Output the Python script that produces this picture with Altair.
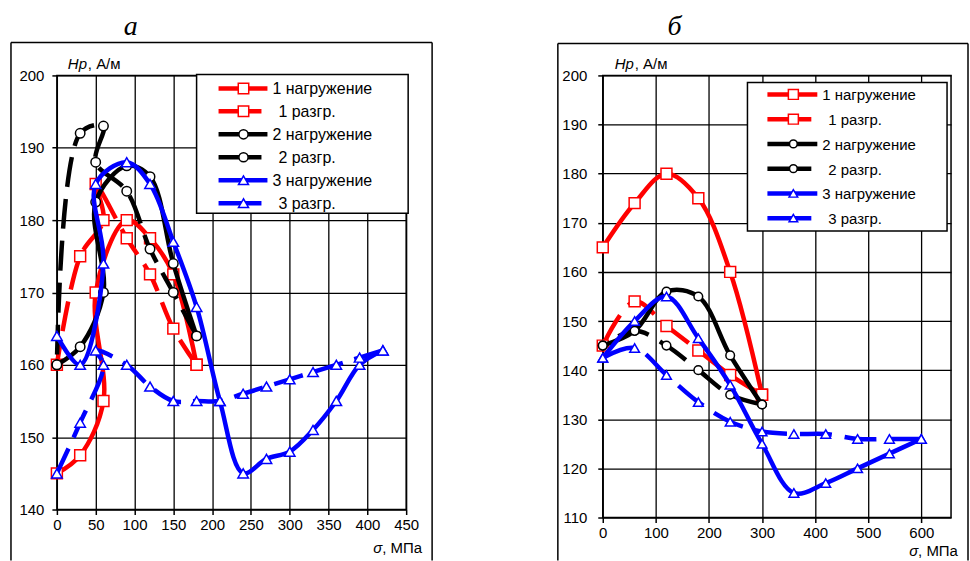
import altair as alt
import pandas as pd

# ---------------- data: panel "а" ----------------
A_X = [
    [0, 30, 60, 50, 90, 120, 150, 180],                      # 1 нагружение
    [180, 150, 120, 90, 50, 60, 30, 0],                      # 1 разгр.
    [0, 30, 60, 50, 90, 120, 150, 180],                      # 2 нагружение
    [180, 150, 120, 90, 50, 60, 30, 0],                      # 2 разгр.
    [0, 30, 60, 50, 90, 120, 150, 180, 210, 240, 270, 300, 330, 360, 390, 420],  # 3 нагружение
    [420, 390, 360, 330, 300, 270, 240, 210, 180, 150, 120, 90, 50, 60, 30, 0],  # 3 разгр.
]
A_Y = [
    [145, 147.5, 155, 170, 180, 177.5, 172.5, 160],
    [160, 165, 172.5, 177.5, 185, 180, 175, 160],
    [160, 162.5, 170, 182.5, 187.5, 186, 174, 164],
    [164, 170, 176, 184, 188, 193, 192, 160],
    [164, 160, 174, 185, 188, 185, 177, 168, 155, 145, 147, 148, 151, 155, 160, 162],
    [162, 161, 160, 159, 158, 157, 156, 155, 155, 155, 157, 160, 162, 160, 152, 145],
]
A_X_TICKS = [0, 50, 100, 150, 200, 250, 300, 350, 400, 450]
A_Y_TICKS = [140, 150, 160, 170, 180, 190, 200]

# ---------------- data: panel "б" ----------------
B_X = [
    [0, 60, 120, 180, 240, 300],
    [300, 240, 180, 120, 60, 0],
    [0, 60, 120, 180, 240, 300],
    [300, 240, 180, 120, 60, 0],
    [0, 60, 120, 180, 240, 300, 360, 420, 480, 540, 600],
    [600, 540, 480, 420, 360, 300, 240, 180, 120, 60, 0],
]
B_Y = [
    [165, 174, 180, 175, 160, 135],
    [135, 139, 144, 149, 154, 145],
    [145, 148, 156, 155, 143, 133],
    [133, 135, 140, 145, 148, 145],
    [142.5, 150, 155, 146.5, 137, 125, 115, 117, 120, 123, 126],
    [126, 126, 126, 127, 127, 127.5, 129.5, 133.5, 139, 144.5, 142.5],
]
B_X_TICKS = [0, 100, 200, 300, 400, 500, 600]
B_Y_TICKS = [110, 120, 130, 140, 150, 160, 170, 180, 190, 200]

SERIES = ["1 нагружение", "1 разгр.", "2 нагружение", "2 разгр.", "3 нагружение", "3 разгр."]
COLORS = ["#FF0000", "#FF0000", "#000000", "#000000", "#0000FF", "#0000FF"]
SHAPES = ["square", "square", "circle", "circle", "triangle-up", "triangle-up"]
DASHED = [False, True, False, True, False, True]

PANEL_TITLES = ["а", "б"]
Y_TITLE = ("Hp", ", А/м")
X_TITLE = ("σ", ", МПа")

FONT = "Liberation Sans"
ONE = alt.Data(values=[{"a": 1}])


def deco():
    return alt.Chart(ONE)


def panel(xs, ys, xdom, xticks, ydom, yticks, W, H, c):
    xenc = alt.X("x:Q", scale=alt.Scale(domain=xdom, nice=False, zero=False),
                 axis=alt.Axis(values=xticks, title=None, labelPadding=3, labelFlush=False))
    yenc = alt.Y("y:Q", scale=alt.Scale(domain=ydom, nice=False, zero=False),
                 axis=alt.Axis(values=yticks, title=None, labelPadding=c["ypad"], labelFlush=False))
    layers = []
    if c.get("span"):
        layers.append(deco().mark_rect(fill="white", opacity=0).encode(
            x=alt.value(-56), x2=alt.value(914), y=alt.value(-74), y2=alt.value(487)))
    for k in range(6):
        df = pd.DataFrame({"x": xs[k], "y": ys[k], "i": list(range(len(xs[k])))})
        base = alt.Chart(df).encode(x=xenc, y=yenc, order=alt.Order("i:Q"))
        lk = dict(color=COLORS[k], strokeWidth=4.5, interpolate="catmull-rom", strokeJoin="round")
        if DASHED[k]:
            lk["strokeDash"] = c["dash"]
        layers.append(base.mark_line(**lk))
        layers.append(base.mark_point(shape=SHAPES[k], filled=True, fill="white", stroke=COLORS[k],
                                      strokeWidth=1.5, opacity=1, size=c["sizes"][k]))
    # outer chart-area frame
    bx1, bx2, by1 = c["box"]
    layers.append(deco().mark_rule(color="black", strokeWidth=1.5).encode(
        x=alt.value(bx1), x2=alt.value(bx2), y=alt.value(by1)))
    layers.append(deco().mark_rule(color="black", strokeWidth=1.5).encode(
        x=alt.value(bx1), y=alt.value(by1), y2=alt.value(486)))
    if bx2 < 380:
        layers.append(deco().mark_rule(color="black", strokeWidth=1.5).encode(
            x=alt.value(bx2), y=alt.value(by1), y2=alt.value(486)))
    # panel title
    tx, ty = c["title"]
    layers.append(deco().mark_text(text=c["tname"], font="Liberation Serif", fontStyle="italic",
                                   fontSize=28, align="center", baseline="alphabetic", color="black")
                  .encode(x=alt.value(tx), y=alt.value(ty)))
    # axis titles
    hx, hy = c["ytitle"]
    layers.append(deco().mark_text(text=Y_TITLE[0], font=FONT, fontStyle="italic", fontSize=15,
                                   align="left", baseline="alphabetic", color="black")
                  .encode(x=alt.value(hx), y=alt.value(hy)))
    layers.append(deco().mark_text(text=Y_TITLE[1], font=FONT, fontSize=15,
                                   align="left", baseline="alphabetic", color="black")
                  .encode(x=alt.value(hx + 20), y=alt.value(hy)))
    sx, sy = c["xtitle"]
    layers.append(deco().mark_text(text=X_TITLE[0], font=FONT, fontStyle="italic", fontSize=15,
                                   align="left", baseline="alphabetic", color="black")
                  .encode(x=alt.value(sx), y=alt.value(sy)))
    layers.append(deco().mark_text(text=X_TITLE[1], font=FONT, fontSize=15,
                                   align="left", baseline="alphabetic", color="black")
                  .encode(x=alt.value(sx + 9), y=alt.value(sy)))
    # legend
    lx1, lx2, ly1, ly2 = c["lbox"]
    layers.append(deco().mark_rect(fill="white", stroke="black", strokeWidth=1.5).encode(
        x=alt.value(lx1), x2=alt.value(lx2), y=alt.value(ly1), y2=alt.value(ly2)))
    l0, lstep = c["lrows"]
    sa, sb, sm, tx0 = c["lcols"]
    for k in range(6):
        yy = l0 + lstep * k
        rk = dict(color=COLORS[k], strokeWidth=4.5)
        end = sb
        if DASHED[k]:
            end = sb - 6
        layers.append(deco().mark_rule(**rk).encode(x=alt.value(sa), x2=alt.value(end), y=alt.value(yy)))
        layers.append(deco().mark_point(shape=SHAPES[k], filled=True, fill="white", stroke=COLORS[k],
                                        strokeWidth=1.5, opacity=1, size=c["lsizes"][k])
                      .encode(x=alt.value(sm), y=alt.value(yy)))
        layers.append(deco().mark_text(text=SERIES[k], font=FONT, fontSize=c["lfont"], align="left",
                                       baseline="middle", color="black")
                      .encode(x=alt.value(tx0 + (6 if DASHED[k] else 0)), y=alt.value(yy + 1)))
    return alt.layer(*layers).properties(width=W, height=H)


left = panel(A_X, A_Y, [0, 450], A_X_TICKS, [140, 200], A_Y_TICKS, 350, 435, dict(
    span=True, ypad=8, dash=[30, 12], sizes=[120, 120, 90, 90, 110, 110],
    box=(-46, 376, -33), title=(74, -41), tname=PANEL_TITLES[0],
    ytitle=(11, -6), xtitle=(317, 479),
    lbox=(140, 352, -1, 138), lrows=(13, 23), lcols=(162, 211, 187, 216),
    lsizes=[110, 110, 85, 85, 100, 100], lfont=16))

right = panel(B_X, B_Y, [0, 656], B_X_TICKS, [110, 200], B_Y_TICKS, 349, 443, dict(
    span=False, ypad=11, dash=[32, 13], sizes=[120, 120, 75, 75, 95, 95],
    box=(-45, 366, -32), title=(72, -41), tname=PANEL_TITLES[1],
    ytitle=(12, -6), xtitle=(307, 482),
    lbox=(145, 345, 7, 156), lrows=(19, 24.8), lcols=(165, 215, 191, 220),
    lsizes=[100, 100, 60, 60, 75, 75], lfont=15))

chart = alt.hconcat(left, right, spacing=197, bounds="flush").properties(
    padding=0, background="white"
).configure_view(
    stroke="black", strokeWidth=1.5
).configure_axis(
    labelFont=FONT, labelFontSize=15, labelColor="black", tickColor="black", tickWidth=1.5,
    tickSize=5, grid=True, gridColor="black", gridWidth=1.3, gridOpacity=1, domain=False
)

chart.save("out.html", embed_options={"renderer": "svg", "actions": False})
